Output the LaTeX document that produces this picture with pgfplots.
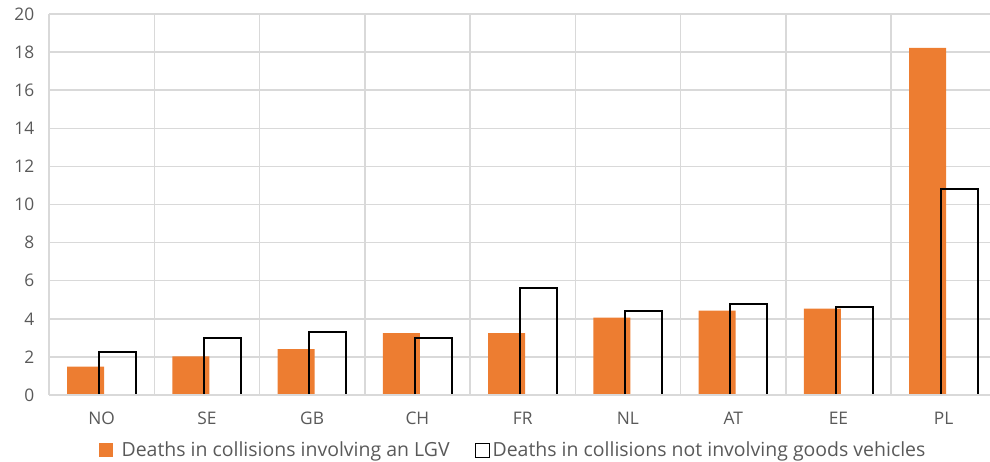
\documentclass[border=0pt]{standalone}
\usepackage{pgfplots}
\pgfplotsset{compat=1.18}
\usepackage{fontspec}
\setmainfont{Open Sans}
\definecolor{lgvorange}{HTML}{ED7D31}
\definecolor{gridgray}{HTML}{D9D9D9}
\definecolor{textgray}{HTML}{595959}

\begin{document}
\begin{tikzpicture}
\begin{axis}[
  name=ax,
  scale only axis,
  width=705.75pt, height=285.75pt,
  xmin=-0.5, xmax=8.44, ymin=0, ymax=20,
  axis line style={draw=none},
  xtick={0,...,8},
  xticklabels={NO,SE,GB,CH,FR,NL,AT,EE,PL},
  minor xtick={-0.5,0.5,...,7.5},
  xminorgrids=true,
  ytick={0,2,...,20},
  ymajorgrids=true,
  grid style={gridgray, line width=1.1pt},
  minor grid style={gridgray, line width=1.1pt},
  major tick length=0pt, minor tick length=0pt,
  tick label style={font=\fontsize{13pt}{15pt}\selectfont, text=textgray},
  /pgf/number format/assume math mode=true,
  yticklabel style={xshift=-7.5pt},
  xticklabel style={yshift=-9pt},
  legend style={at={(0.4936,-0.1444)}, anchor=center, draw=none, fill=none,
    font=\fontsize{14.6pt}{17pt}\selectfont, text=textgray,
    /tikz/every even column/.append style={column sep=17pt},
    nodes={inner sep=2pt}},
  legend columns=2,
]
% deaths in collisions involving a light goods vehicle
\addplot[ybar, bar width=0.352, bar shift=-0.152, fill=lgvorange, draw=none,
  legend image code/.code={\fill[lgvorange] (0pt,-5.25pt) rectangle (10.5pt,5.25pt);
    \path (15pt,0pt);}]
  coordinates {(0,1.49) (1,2.03) (2,2.41) (3,3.25) (4,3.25) (5,4.06) (6,4.43) (7,4.53) (8,18.22)};
\addlegendentry{Deaths in collisions involving an LGV}
% deaths in collisions not involving goods vehicles
\addplot[ybar, bar width=0.352, bar shift=0.15, fill=none, draw=black, line width=1.5pt,
  legend image code/.code={\draw[black, line width=0.75pt] (0pt,-5.25pt) rectangle (10.5pt,5.25pt);}]
  coordinates {(0,2.27) (1,3.01) (2,3.29) (3,3.00) (4,5.60) (5,4.40) (6,4.79) (7,4.60) (8,10.83)};
\addlegendentry{Deaths in collisions not involving goods vehicles}
% baseline over the bar feet
\draw[gridgray, line width=1.1pt] (axis cs:-0.5,0) -- (axis cs:8.44,0);
\end{axis}
\pgfresetboundingbox
\path[use as bounding box] ([shift={(-36.75pt,-50.25pt)}]ax.south west) rectangle ([shift={(0pt,10.5pt)}]ax.north east);
\end{tikzpicture}
\end{document}
